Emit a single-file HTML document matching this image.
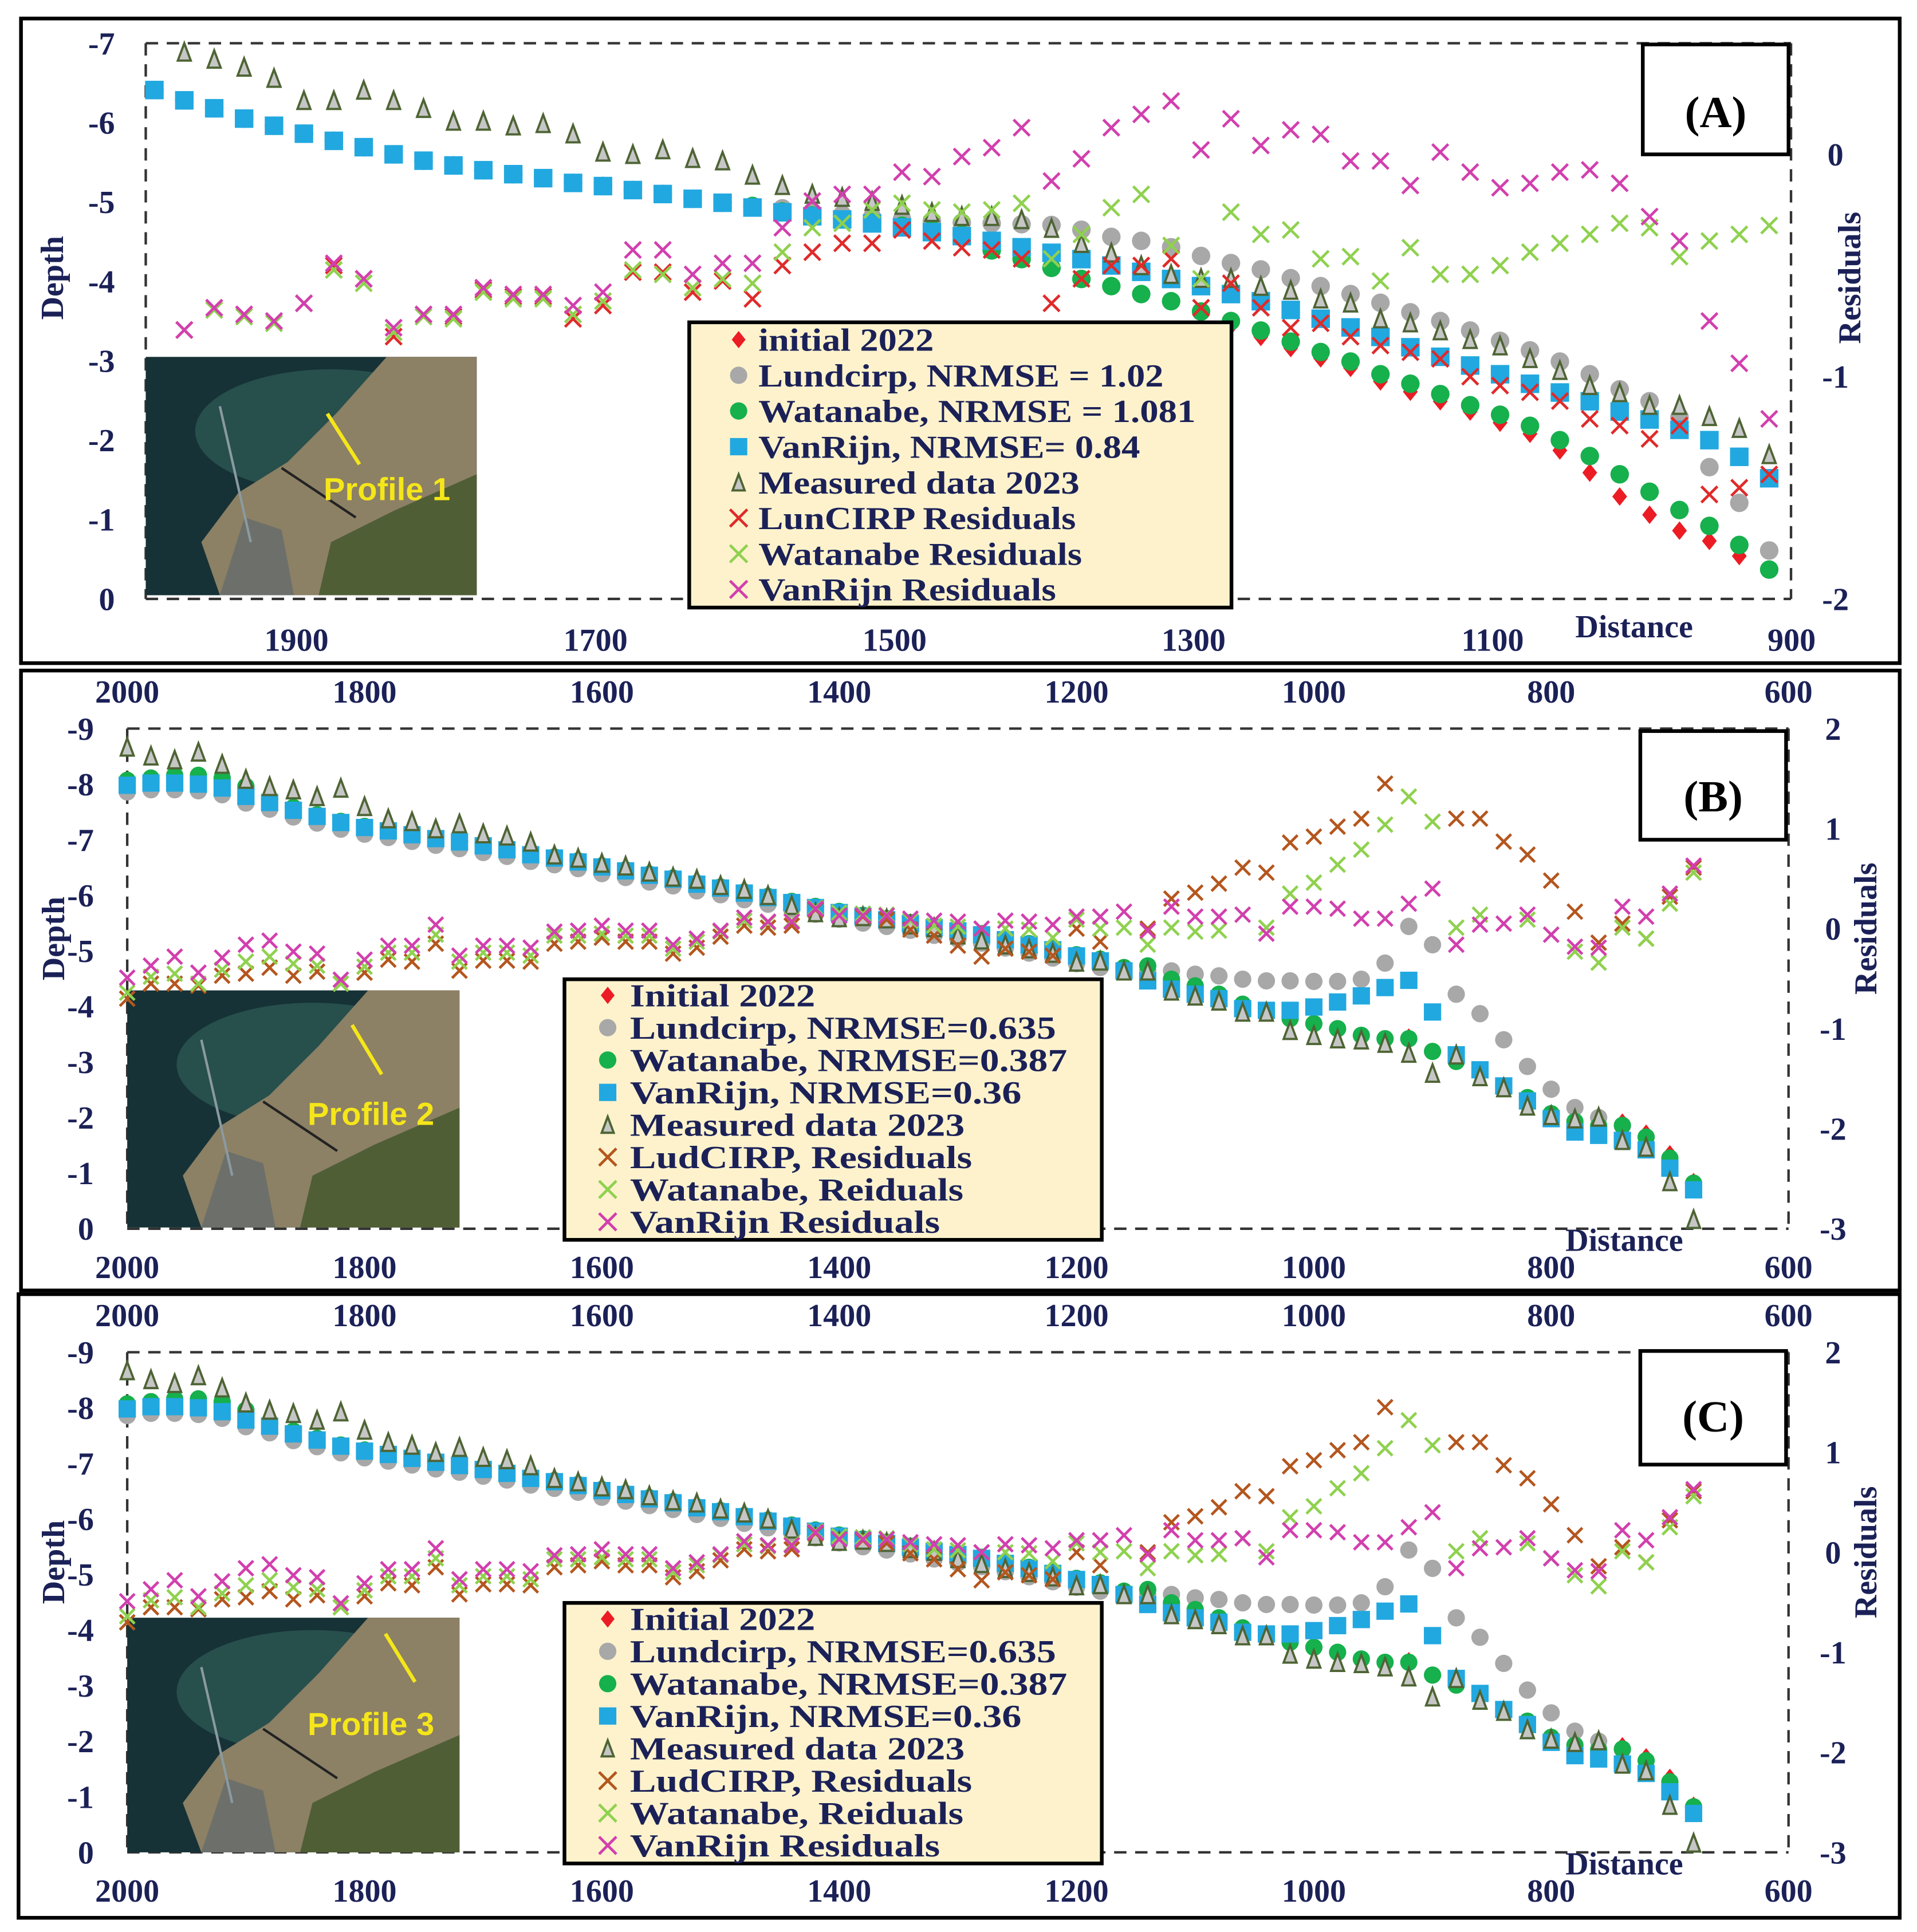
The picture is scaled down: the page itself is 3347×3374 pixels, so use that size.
<!DOCTYPE html>
<html><head><meta charset="utf-8"><style>
html,body{margin:0;padding:0;background:#fff;}
svg{display:block;}
.t{font-family:"Liberation Serif",serif;font-weight:bold;fill:#1b2157;}
.lg{font-family:"Liberation Serif",serif;font-weight:bold;fill:#1b2157;font-size:26px;}
</style></head><body>
<svg id="chart" xmlns="http://www.w3.org/2000/svg" width="3347" height="3374" viewBox="0 0 1552 1564.5" preserveAspectRatio="none">
<rect x="0" y="0" width="1552" height="1565" fill="#fff"/>
<!-- Panel frames -->
<rect x="17" y="15" width="1521" height="522" fill="none" stroke="#000" stroke-width="3"/>
<rect x="17" y="543" width="1521" height="502" fill="none" stroke="#000" stroke-width="3"/>
<rect x="15" y="1048" width="1523" height="505" fill="none" stroke="#000" stroke-width="3"/>
<!-- plot borders -->
<g fill="none" stroke="#333" stroke-width="2" stroke-dasharray="10,7">
<line x1="118" y1="35" x2="1450" y2="35"/><line x1="118" y1="485" x2="1450" y2="485"/><line x1="118" y1="35" x2="118" y2="485"/><line x1="1450" y1="35" x2="1450" y2="485"/></g>
<g fill="none" stroke="#333" stroke-width="2" stroke-dasharray="10,7">
<line x1="103" y1="590" x2="1448" y2="590"/><line x1="103" y1="995" x2="1448" y2="995"/><line x1="103" y1="590" x2="103" y2="995"/><line x1="1448" y1="590" x2="1448" y2="995"/></g>
<g fill="none" stroke="#333" stroke-width="2" stroke-dasharray="10,7">
<line x1="103" y1="1095" x2="1448" y2="1095"/><line x1="103" y1="1500" x2="1448" y2="1500"/><line x1="103" y1="1095" x2="103" y2="1500"/><line x1="1448" y1="1095" x2="1448" y2="1500"/></g>

<!-- Insets -->
<g transform="translate(118,289)">
<rect width="268" height="193" fill="#163236"/><ellipse cx="150" cy="60" rx="110" ry="50" fill="#2c5652" opacity="0.8"/>
<polygon points="195,0 268,0 268,193 60,193 45,150 75,110 115,85 155,45" fill="#8c8065"/>
<polygon points="140,193 268,193 268,95 200,125 150,150" fill="#4f5e35"/>
<polygon points="60,193 120,193 110,140 80,130" fill="#6d6f6a"/>
<line x1="60" y1="40" x2="85" y2="150" stroke="#8a9aa0" stroke-width="2"/><line x1="110" y1="90" x2="170" y2="130" stroke="#222" stroke-width="2"/>
<line x1="147" y1="46" x2="173" y2="87" stroke="#f5e61a" stroke-width="3"/>
<text x="144" y="116" font-family="Liberation Sans,sans-serif" font-weight="bold" font-size="26" fill="#f5e61a">Profile 1</text></g>
<g transform="translate(103,802)">
<rect width="269" height="192" fill="#163236"/><ellipse cx="150" cy="60" rx="110" ry="50" fill="#2c5652" opacity="0.8"/>
<polygon points="195,0 269,0 269,192 60,192 45,150 75,110 115,85 155,45" fill="#8c8065"/>
<polygon points="140,192 269,192 269,95 200,125 150,150" fill="#4f5e35"/>
<polygon points="60,192 120,192 110,140 80,130" fill="#6d6f6a"/>
<line x1="60" y1="40" x2="85" y2="150" stroke="#8a9aa0" stroke-width="2"/><line x1="110" y1="90" x2="170" y2="130" stroke="#222" stroke-width="2"/>
<line x1="182" y1="28" x2="206" y2="68" stroke="#f5e61a" stroke-width="3"/>
<text x="146" y="109" font-family="Liberation Sans,sans-serif" font-weight="bold" font-size="26" fill="#f5e61a">Profile 2</text></g>
<g transform="translate(103,1310)">
<rect width="269" height="190" fill="#163236"/><ellipse cx="150" cy="60" rx="110" ry="50" fill="#2c5652" opacity="0.8"/>
<polygon points="195,0 269,0 269,190 60,190 45,150 75,110 115,85 155,45" fill="#8c8065"/>
<polygon points="140,190 269,190 269,95 200,125 150,150" fill="#4f5e35"/>
<polygon points="60,190 120,190 110,140 80,130" fill="#6d6f6a"/>
<line x1="60" y1="40" x2="85" y2="150" stroke="#8a9aa0" stroke-width="2"/><line x1="110" y1="90" x2="170" y2="130" stroke="#222" stroke-width="2"/>
<line x1="209" y1="13" x2="233" y2="52" stroke="#f5e61a" stroke-width="3"/>
<text x="146" y="95" font-family="Liberation Sans,sans-serif" font-weight="bold" font-size="26" fill="#f5e61a">Profile 3</text></g>

<g id="marks"></g>

<!-- Legends -->
<g>
<rect x="558" y="261" width="439" height="231" fill="#fdf2cc" stroke="#000" stroke-width="3"/>
<g id="legA"></g></g>
<g>
<rect x="457" y="793" width="435" height="211" fill="#fdf2cc" stroke="#000" stroke-width="3"/>
<g id="legB"></g></g>
<g>
<rect x="457" y="1298" width="435" height="211" fill="#fdf2cc" stroke="#000" stroke-width="3"/>
<g id="legC"></g></g>

<!-- Panel labels -->
<g><rect x="1330" y="36" width="118" height="89" fill="#fff" stroke="#000" stroke-width="3"/><text class="t" x="1389" y="103" font-size="36" text-anchor="middle" fill="#000" style="fill:#000">(A)</text></g>
<g><rect x="1328" y="592" width="118" height="88" fill="#fff" stroke="#000" stroke-width="3"/><text class="t" x="1387" y="657" font-size="36" text-anchor="middle" style="fill:#000">(B)</text></g>
<g><rect x="1328" y="1094" width="118" height="92" fill="#fff" stroke="#000" stroke-width="3"/><text class="t" x="1387" y="1159" font-size="36" text-anchor="middle" style="fill:#000">(C)</text></g>

<!-- Axis titles -->
<text class="t" font-size="26" transform="translate(51,225) rotate(-90)" text-anchor="middle">Depth</text>
<text class="t" font-size="26" transform="translate(1506,225) rotate(-90)" text-anchor="middle">Residuals</text>
<text class="t" font-size="26" x="1323" y="516" text-anchor="middle">Distance</text>
<text class="t" font-size="26" transform="translate(52,760) rotate(-90)" text-anchor="middle">Depth</text>
<text class="t" font-size="26" transform="translate(1519,752) rotate(-90)" text-anchor="middle">Residuals</text>
<text class="t" font-size="26" x="1315" y="1013" text-anchor="middle">Distance</text>
<text class="t" font-size="26" transform="translate(52,1265) rotate(-90)" text-anchor="middle">Depth</text>
<text class="t" font-size="26" transform="translate(1519,1257) rotate(-90)" text-anchor="middle">Residuals</text>
<text class="t" font-size="26" x="1315" y="1518" text-anchor="middle">Distance</text>
<g id="ticks"></g>
</svg>
<script>
const NS="http://www.w3.org/2000/svg";
// ---------- Panel A data ----------
const distA=[1995,1975,1955,1935,1915,1895,1875,1855,1835,1815,1795,1775,1755,1735,1715,1695,1675,1655,1635,1615,1595,1575,1555,1535,1515,1495,1475,1455,1435,1415,1395,1375,1355,1335,1315,1295,1275,1255,1235,1215,1195,1175,1155,1135,1115,1095,1075,1055,1035,1015,995,975,955,935,915];
const vanRijnA=[-6.41,-6.28,-6.18,-6.05,-5.96,-5.86,-5.77,-5.69,-5.6,-5.52,-5.46,-5.4,-5.35,-5.3,-5.24,-5.2,-5.15,-5.1,-5.04,-4.99,-4.93,-4.87,-4.82,-4.78,-4.73,-4.68,-4.62,-4.57,-4.51,-4.43,-4.36,-4.28,-4.2,-4.12,-4.03,-3.94,-3.84,-3.75,-3.64,-3.53,-3.42,-3.3,-3.17,-3.05,-2.94,-2.83,-2.71,-2.6,-2.49,-2.36,-2.26,-2.13,-2.0,-1.79,-1.52];
const measuredA=[null,-6.89,-6.8,-6.7,-6.56,-6.28,-6.28,-6.41,-6.28,-6.18,-6.02,-6.02,-5.96,-5.99,-5.86,-5.63,-5.6,-5.66,-5.55,-5.52,-5.34,-5.21,-5.1,-5.06,-5.01,-4.96,-4.87,-4.82,-4.82,-4.78,-4.67,-4.48,-4.36,-4.2,-4.09,-4.04,-4.04,-3.94,-3.89,-3.78,-3.73,-3.53,-3.48,-3.38,-3.27,-3.19,-3.03,-2.88,-2.69,-2.6,-2.44,-2.44,-2.3,-2.15,-1.82];
const lundA=[-6.41,-6.28,-6.18,-6.05,-5.96,-5.86,-5.77,-5.69,-5.6,-5.52,-5.46,-5.4,-5.35,-5.3,-5.24,-5.2,-5.15,-5.1,-5.04,-4.99,-4.93,-4.92,-4.88,-4.84,-4.81,-4.78,-4.76,-4.74,-4.73,-4.72,-4.71,-4.65,-4.56,-4.51,-4.43,-4.32,-4.23,-4.15,-4.04,-3.94,-3.84,-3.73,-3.61,-3.5,-3.38,-3.25,-3.13,-2.99,-2.83,-2.64,-2.49,-2.29,-1.66,-1.21,-0.61];
const watanabeA=[-6.41,-6.28,-6.18,-6.05,-5.96,-5.86,-5.77,-5.69,-5.6,-5.52,-5.46,-5.4,-5.35,-5.3,-5.24,-5.2,-5.15,-5.1,-5.04,-4.99,-4.95,-4.88,-4.83,-4.78,-4.74,-4.7,-4.65,-4.59,-4.39,-4.28,-4.17,-4.03,-3.94,-3.84,-3.75,-3.62,-3.5,-3.38,-3.24,-3.11,-2.99,-2.83,-2.71,-2.58,-2.44,-2.32,-2.18,-2.0,-1.8,-1.57,-1.35,-1.12,-0.92,-0.68,-0.37];
const initialA=[null,null,null,null,null,null,null,null,null,null,null,null,null,null,null,null,null,null,null,null,null,null,null,null,null,null,null,null,null,null,null,null,null,null,null,-3.58,-3.44,-3.3,-3.16,-3.03,-2.91,-2.74,-2.61,-2.49,-2.36,-2.22,-2.08,-1.87,-1.59,-1.29,-1.06,-0.86,-0.73,-0.54,null];
const lundResA=[null,-0.79,-0.69,-0.72,-0.75,-0.67,-0.5,-0.56,-0.82,-0.72,-0.73,-0.61,-0.64,-0.64,-0.74,-0.68,-0.53,-0.53,-0.62,-0.57,-0.65,-0.5,-0.44,-0.4,-0.4,-0.34,-0.39,-0.42,-0.43,-0.47,-0.67,-0.56,-0.5,-0.5,-0.47,-0.69,-0.58,-0.69,-0.78,-0.76,-0.82,-0.86,-0.89,-0.92,-1.0,-1.04,-1.07,-1.11,-1.19,-1.22,-1.28,-1.22,-1.53,-1.5,-1.44];
const watResA=[null,-0.79,-0.7,-0.73,-0.76,-0.67,-0.52,-0.58,-0.8,-0.73,-0.74,-0.62,-0.65,-0.65,-0.72,-0.66,-0.52,-0.54,-0.6,-0.56,-0.58,-0.44,-0.33,-0.31,-0.25,-0.22,-0.25,-0.26,-0.25,-0.22,-0.47,-0.36,-0.24,-0.18,-0.41,-0.56,-0.26,-0.36,-0.34,-0.47,-0.46,-0.57,-0.42,-0.54,-0.54,-0.5,-0.44,-0.4,-0.36,-0.31,-0.33,-0.46,-0.39,-0.36,-0.32];
const vanResA=[null,-0.79,-0.69,-0.72,-0.75,-0.67,-0.49,-0.56,-0.78,-0.72,-0.72,-0.6,-0.63,-0.63,-0.68,-0.62,-0.43,-0.43,-0.54,-0.49,-0.49,-0.33,-0.21,-0.18,-0.18,-0.08,-0.1,-0.01,0.03,0.12,-0.12,-0.02,0.12,0.18,0.24,0.02,0.16,0.04,0.11,0.09,-0.03,-0.03,-0.14,0.01,-0.08,-0.15,-0.13,-0.08,-0.07,-0.13,-0.28,-0.39,-0.75,-0.94,-1.19];
const xTicksA=[1900,1700,1500,1300,1100,900];
const yTicksA=[-7,-6,-5,-4,-3,-2,-1,0];
const y2TicksA=[0,-1,-2];
// ---------- Panel B / C data (identical) ----------
const distB=[2000,1980,1960,1940,1920,1900,1880,1860,1840,1820,1800,1780,1760,1740,1720,1700,1680,1660,1640,1620,1600,1580,1560,1540,1520,1500,1480,1460,1440,1420,1400,1380,1360,1340,1320,1300,1280,1260,1240,1220,1200,1180,1160,1140,1120,1100,1080,1060,1040,1020,1000,980,960,940,920,900,880,860,840,820,800,780,760,740,720,700,680];
const vanRijnB=[-7.98,-8.02,-8.02,-8.0,-7.93,-7.78,-7.67,-7.53,-7.42,-7.31,-7.22,-7.16,-7.09,-7.02,-6.96,-6.89,-6.82,-6.73,-6.67,-6.6,-6.51,-6.44,-6.36,-6.29,-6.2,-6.13,-6.04,-5.96,-5.87,-5.78,-5.69,-5.62,-5.56,-5.49,-5.42,-5.36,-5.29,-5.2,-5.11,-5.02,-4.91,-4.82,-4.64,-4.46,-4.31,-4.22,-4.14,-3.96,-3.93,-3.93,-3.99,-4.08,-4.19,-4.34,-4.47,-3.9,-3.13,-2.86,-2.57,-2.3,-1.98,-1.74,-1.68,-1.59,-1.42,-1.09,-0.7];
const lundB=[-7.86,-7.9,-7.9,-7.88,-7.81,-7.66,-7.55,-7.41,-7.3,-7.19,-7.1,-7.04,-6.97,-6.9,-6.84,-6.77,-6.7,-6.61,-6.55,-6.48,-6.39,-6.32,-6.24,-6.17,-6.08,-6.01,-5.92,-5.84,-5.75,-5.66,-5.57,-5.5,-5.44,-5.37,-5.28,-5.21,-5.14,-5.05,-4.96,-4.87,-4.77,-4.7,-4.66,-4.64,-4.64,-4.58,-4.55,-4.49,-4.46,-4.46,-4.45,-4.45,-4.49,-4.78,-5.44,-5.11,-4.22,-3.87,-3.4,-2.92,-2.51,-2.18,-2.0,-1.85,-1.45,-1.15,-0.72];
const watanabeB=[-8.07,-8.11,-8.16,-8.16,-8.11,-7.96,-7.72,-7.58,-7.45,-7.33,-7.24,-7.18,-7.11,-7.04,-6.98,-6.91,-6.84,-6.75,-6.69,-6.62,-6.53,-6.46,-6.38,-6.31,-6.22,-6.15,-6.06,-5.98,-5.89,-5.8,-5.71,-5.64,-5.58,-5.51,-5.44,-5.38,-5.31,-5.22,-5.13,-5.04,-4.93,-4.85,-4.7,-4.73,-4.49,-4.37,-4.22,-4.04,-3.9,-3.78,-3.69,-3.6,-3.48,-3.42,-3.42,-3.19,-3.01,-2.85,-2.57,-2.36,-2.07,-1.93,-1.85,-1.86,-1.65,-1.27,-0.82];
const initialB=[-8.07,-8.11,-8.16,-8.16,-8.11,-7.96,-7.72,-7.58,-7.45,-7.33,-7.24,-7.18,-7.11,-7.04,-6.98,-6.91,-6.84,-6.75,-6.69,-6.62,-6.53,-6.46,-6.38,-6.31,-6.22,-6.15,-6.06,-5.98,-5.89,-5.8,-5.71,-5.64,-5.58,-5.51,-5.44,-5.38,-5.31,-5.22,-5.13,-5.04,-4.93,-4.85,-4.7,-4.73,-4.49,-4.37,-4.22,-4.04,-3.9,-3.78,-3.69,-3.6,-3.48,-3.42,-3.45,-3.19,-3.01,-2.85,-2.57,-2.36,-2.07,-1.93,-1.85,-1.92,-1.72,-1.35,-0.85];
const measuredB=[-8.67,-8.51,-8.44,-8.58,-8.36,-8.09,-7.96,-7.9,-7.78,-7.93,-7.6,-7.38,-7.33,-7.2,-7.29,-7.11,-7.07,-6.96,-6.73,-6.67,-6.58,-6.53,-6.42,-6.33,-6.29,-6.18,-6.11,-6.0,-5.82,-5.69,-5.6,-5.62,-5.58,-5.47,-5.42,-5.29,-5.2,-5.11,-5.04,-4.96,-4.8,-4.82,-4.64,-4.64,-4.28,-4.19,-4.1,-3.9,-3.9,-3.57,-3.48,-3.42,-3.4,-3.34,-3.16,-2.8,-3.13,-2.74,-2.54,-2.21,-2.04,-1.98,-2.01,-1.59,-1.47,-0.85,-0.17];
const lundResB=[-0.7,-0.55,-0.55,-0.57,-0.47,-0.45,-0.39,-0.47,-0.43,-0.55,-0.44,-0.31,-0.33,-0.15,-0.42,-0.32,-0.32,-0.33,-0.15,-0.13,-0.09,-0.13,-0.13,-0.25,-0.19,-0.08,0.03,0.01,0.03,0.19,0.13,0.12,0.09,-0.01,-0.07,-0.17,-0.28,-0.2,-0.23,-0.27,0.0,-0.13,null,0.0,0.3,0.36,0.45,0.61,0.56,0.86,0.92,1.02,1.1,1.45,null,null,1.1,1.1,0.87,0.74,0.48,0.17,-0.14,0.05,-0.1,0.32,0.61];
const watResB=[-0.64,-0.48,-0.45,-0.55,-0.41,-0.33,-0.28,-0.35,-0.37,-0.55,-0.38,-0.24,-0.24,-0.06,-0.33,-0.24,-0.24,-0.27,-0.07,-0.07,-0.05,-0.07,-0.07,-0.2,-0.13,-0.03,0.08,0.06,0.08,0.21,0.16,0.15,0.14,0.08,0.03,0.02,0.0,0.0,-0.01,-0.09,0.09,0.0,0.01,-0.16,0.01,-0.03,-0.02,0.14,0.01,0.35,0.46,0.64,0.79,1.04,1.32,1.07,0.01,0.14,null,0.09,-0.06,-0.23,-0.34,0.01,-0.1,0.25,0.56];
const vanResB=[-0.49,-0.37,-0.28,-0.44,-0.29,-0.16,-0.12,-0.23,-0.25,-0.51,-0.31,-0.17,-0.17,0.04,-0.27,-0.17,-0.17,-0.19,-0.03,-0.02,0.03,-0.02,-0.02,-0.16,-0.1,-0.02,0.11,0.07,0.07,0.2,0.13,0.13,0.13,0.1,0.08,0.07,0.0,0.08,0.07,0.04,0.12,0.12,0.17,-0.02,0.22,0.12,0.12,0.14,-0.05,0.22,0.22,0.2,0.1,0.1,0.25,0.4,-0.16,0.04,0.05,0.14,-0.06,-0.18,-0.19,0.22,0.12,0.35,0.63];
const xTicksB=[2000,1800,1600,1400,1200,1000,800,600];
const yTicksB=[-9,-8,-7,-6,-5,-4,-3,-2,-1,0];
const y2TicksB=[2,1,0,-1,-2,-3];

// ---------- axes ----------
function xA(d){return 240+(1900-d)*1.2105;}
function yA(v){return 485+v*64.29;}
function rA(r){return 125-r*180;}
function xB(d){return 103+(2000-d)*0.9607;}
function yB(v,oy){return 995+oy+v*45;}
function rB(r,oy){return 752+oy-r*81;}

const marks=document.getElementById('marks');
const C={red:'#ec1c24',grey:'#a8a8a8',green:'#16b04c',blue:'#22a8e0',triF:'#c6c6c6',triS:'#4e6434',xr:'#e02a2a',xg:'#8fd14f',xm:'#d23fae',xb:'#b4561e'};
function shape(parent,type,x,y,s,color){
  let el;
  if(type==='sq'){el=document.createElementNS(NS,'rect');el.setAttribute('x',x-s/2);el.setAttribute('y',y-s/2);el.setAttribute('width',s);el.setAttribute('height',s);el.setAttribute('fill',color);}
  else if(type==='ci'){el=document.createElementNS(NS,'circle');el.setAttribute('cx',x);el.setAttribute('cy',y);el.setAttribute('r',s/2);el.setAttribute('fill',color);}
  else if(type==='di'){el=document.createElementNS(NS,'polygon');const h=s/2;el.setAttribute('points',`${x},${y-h} ${x+h*0.8},${y} ${x},${y+h} ${x-h*0.8},${y}`);el.setAttribute('fill',color);}
  else if(type==='tr'){el=document.createElementNS(NS,'polygon');const h=s/2;el.setAttribute('points',`${x},${y-h} ${x+h*0.75},${y+h} ${x-h*0.75},${y+h}`);el.setAttribute('fill',C.triF);el.setAttribute('stroke',C.triS);el.setAttribute('stroke-width',1.8);}
  else {el=document.createElementNS(NS,'path');const h=s/2;el.setAttribute('d',`M${x-h},${y-h}L${x+h},${y+h}M${x+h},${y-h}L${x-h},${y+h}`);el.setAttribute('stroke',color);el.setAttribute('stroke-width',2.2);el.setAttribute('fill','none');}
  parent.appendChild(el);
  return el;
}
function series(name,dists,vals,fx,fy,type,s,color){
  const g=document.createElementNS(NS,'g');
  
  
  marks.appendChild(g);
  for(let i=0;i<dists.length;i++){
    if(vals[i]===null||vals[i]===undefined) continue;
    const el=shape(g,type,fx(dists[i]),fy(vals[i]),s,color);
    
    
  }
}
// Panel A
series('a-initial-2022',distA,initialA,xA,yA,'di',15,C.red);
series('a-lundcirp',distA,lundA,xA,yA,'ci',15,C.grey);
series('a-watanabe',distA,watanabeA,xA,yA,'ci',15,C.green);
series('a-vanrijn',distA,vanRijnA,xA,yA,'sq',15,C.blue);
series('a-measured-2023',distA,measuredA,xA,yA,'tr',14,C.triF);
series('a-lundcirp-residuals',distA,lundResA,xA,rA,'x',13,C.xr);
series('a-watanabe-residuals',distA,watResA,xA,rA,'x',13,C.xg);
series('a-vanrijn-residuals',distA,vanResA,xA,rA,'x',13,C.xm);
// Panels B and C
[['b',0],['c',505]].forEach(([p,oy])=>{
  const fy=v=>yB(v,oy), fr=r=>rB(r,oy);
  series(p+'-initial-2022',distB,initialB,xB,fy,'di',14,C.red);
  series(p+'-lundcirp',distB,lundB,xB,fy,'ci',14,C.grey);
  series(p+'-watanabe',distB,watanabeB,xB,fy,'ci',14,C.green);
  series(p+'-vanrijn',distB,vanRijnB,xB,fy,'sq',14,C.blue);
  series(p+'-measured-2023',distB,measuredB,xB,fy,'tr',14,C.triF);
  series(p+'-ludcirp-residuals',distB,lundResB,xB,fr,'x',12,C.xb);
  series(p+'-watanabe-residuals',distB,watResB,xB,fr,'x',12,C.xg);
  series(p+'-vanrijn-residuals',distB,vanResB,xB,fr,'x',12,C.xm);
});
// ticks
const tk=document.getElementById('ticks');
function txt(x,y,s,anchor,size,name){
  const t=document.createElementNS(NS,'text');
  t.setAttribute('x',x);t.setAttribute('y',y);t.setAttribute('class','t');t.setAttribute('font-size',size);t.setAttribute('text-anchor',anchor);
  t.textContent=s;
  
  
  tk.appendChild(t);
}
xTicksA.forEach(d=>txt(xA(d),527,d,'middle',26,'x-tick-a'));
yTicksA.forEach(v=>txt(93,yA(v)+9,v,'end',26,'y-tick-a'));
y2TicksA.forEach(r=>txt(1486,rA(r)+9,r,'middle',26,'y2-tick-a'));
[['b',0],['c',505]].forEach(([p,oy])=>{
  xTicksB.forEach(d=>{txt(xB(d),569+oy,d,'middle',26,'x-top-tick-'+p);txt(xB(d),1035+oy,d,'middle',26,'x-tick-'+p);});
  yTicksB.forEach(v=>txt(76,yB(v,oy)+9,v,'end',26,'y-tick-'+p));
  y2TicksB.forEach(r=>txt(1484,rB(r,oy)+9,r,'middle',26,'y2-tick-'+p));
});
// legends
const legEntriesA=['initial 2022','Lundcirp, NRMSE = 1.02','Watanabe, NRMSE = 1.081','VanRijn, NRMSE= 0.84','Measured data 2023','LunCIRP Residuals','Watanabe Residuals','VanRijn Residuals'];
const legWidthsA=[142,328,354,309,260,257,262,241];
const legEntriesB=['Initial 2022','Lundcirp, NRMSE=0.635','Watanabe, NRMSE=0.387','VanRijn, NRMSE=0.36','Measured data 2023','LudCIRP, Residuals','Watanabe, Reiduals','VanRijn Residuals'];
const legWidthsB=[150,345,354,317,271,277,270,251];
function legend(id,entries,widths,mx,tx,y0,dy,res){
  const g=document.getElementById(id);
  const types=[['di',C.red],['ci',C.grey],['ci',C.green],['sq',C.blue],['tr',C.triF],['x',res],['x',C.xg],['x',C.xm]];
  entries.forEach((e,i)=>{
    const y=y0+i*dy;
    const m=shape(g,types[i][0],mx,y,types[i][0]==='tr'?13:14,types[i][1]);
    
    
    const t=document.createElementNS(NS,'text');
    t.setAttribute('x',tx);t.setAttribute('y',y+9);t.setAttribute('class','lg');
    t.setAttribute('textLength',widths[i]);t.setAttribute('lengthAdjust','spacingAndGlyphs');
    t.textContent=e;
    
    
    g.appendChild(t);
  });
}
legend('legA',legEntriesA,legWidthsA,598,614,275,28.9,C.xr);
legend('legB',legEntriesB,legWidthsB,492,510,806,26.2,C.xb);
legend('legC',legEntriesB,legWidthsB,492,510,1311,26.2,C.xb);
</script>
</body></html>
